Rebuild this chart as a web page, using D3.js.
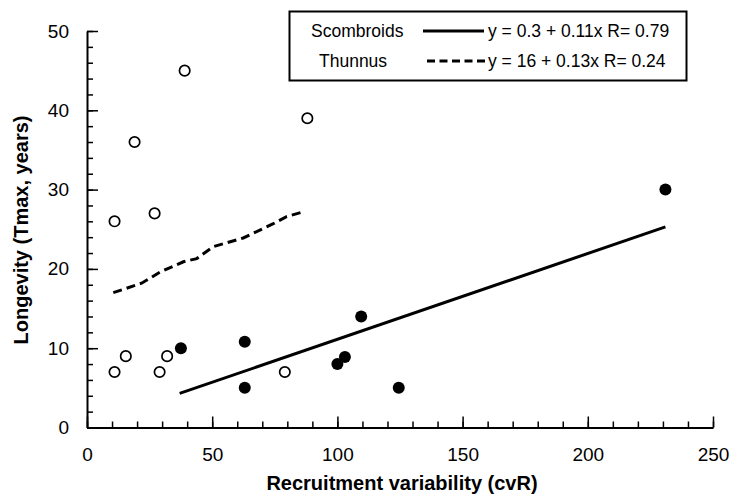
<!DOCTYPE html>
<html>
<head>
<meta charset="utf-8">
<script src="https://cdn.jsdelivr.net/npm/d3@7"></script>
<style>
  body { margin: 0; background: #fff; }
  svg text { font-family: "Liberation Sans", Arial, sans-serif; fill: #000; }
</style>
</head>
<body>
<svg id="chart" width="731" height="498"></svg>
<script>
// Scombroids (filled circles)
const scomX = [37.5, 63, 63, 100, 103, 109.5, 124.5, 231];
const scomY = [10, 10.8, 5, 8, 8.9, 14, 5, 30];
// Thunnus (open circles)
const thunX = [11, 15.5, 29, 32, 11, 19, 27, 39, 88, 79];
const thunY = [7, 9, 7, 9, 26, 36, 27, 45, 39, 7];
// fitted lines
const scomFitX = [37, 231];
const scomFitY = [4.3, 25.3];
const thunFitX = [10.5, 21.8, 29.2, 38.5, 43.8, 50.4, 62.4, 66.4, 74.4, 79.7, 85.3];
const thunFitY = [17.0, 18.2, 19.6, 20.9, 21.3, 22.8, 23.9, 24.5, 25.7, 26.6, 27.1];

const xTicks = [0, 50, 100, 150, 200, 250];
const yTicks = [0, 10, 20, 30, 40, 50];
const legendNames = ['Scombroids', 'Thunnus'];
const legendEq = ['y = 0.3 + 0.11x R= 0.79', 'y = 16 + 0.13x R= 0.24'];

const svg = d3.select('#chart');

const x = d3.scaleLinear().domain([0, 250]).range([87, 713]);
const y = d3.scaleLinear().domain([0, 50]).range([427.5, 31]);

// minor ticks first
svg.append('g')
    .attr('transform', 'translate(0,' + y(0) + ')')
    .call(d3.axisBottom(x).tickValues(d3.range(0, 251, 10)).tickSizeInner(-6).tickSizeOuter(0).tickFormat(''))
    .call(g => g.select('.domain').remove())
    .selectAll('line').attr('stroke', '#000').attr('stroke-width', 1.5);

svg.append('g')
    .attr('transform', 'translate(' + x(0) + ',0)')
    .call(d3.axisLeft(y).tickValues(d3.range(0, 51, 2)).tickSizeInner(-6).tickSizeOuter(0).tickFormat(''))
    .call(g => g.select('.domain').remove())
    .selectAll('line').attr('stroke', '#000').attr('stroke-width', 1.5);

// major ticks + labels
const xAxis = svg.append('g')
    .attr('transform', 'translate(0,' + y(0) + ')')
    .call(d3.axisBottom(x).tickValues(xTicks).tickSizeInner(-11).tickSizeOuter(0).tickPadding(20));
const yAxis = svg.append('g')
    .attr('transform', 'translate(' + x(0) + ',0)')
    .call(d3.axisLeft(y).tickValues(yTicks).tickSizeInner(-11).tickSizeOuter(0).tickPadding(18));

[xAxis, yAxis].forEach(a => {
    a.select('.domain').attr('stroke', '#000').attr('stroke-width', 2);
    a.selectAll('line').attr('stroke', '#000').attr('stroke-width', 1.5);
    a.selectAll('text').attr('font-size', 19).attr('font-family', '"Liberation Sans", Arial, sans-serif').attr('fill', '#000');
});

// axis titles
svg.append('text')
    .attr('x', 402)
    .attr('y', 490)
    .attr('text-anchor', 'middle')
    .attr('font-size', 20)
    .attr('font-weight', 'bold')
    .text('Recruitment variability (cvR)');

svg.append('text')
    .attr('transform', 'translate(28,230) rotate(-90)')
    .attr('text-anchor', 'middle')
    .attr('font-size', 20)
    .attr('font-weight', 'bold')
    .text('Longevity (Tmax, years)');

// fitted lines
const line = d3.line()
    .x(d => x(d[0]))
    .y(d => y(d[1]));

svg.append('path')
    .attr('d', line(d3.zip(scomFitX, scomFitY)))
    .attr('fill', 'none')
    .attr('stroke', '#000')
    .attr('stroke-width', 3);

svg.append('path')
    .attr('d', line(d3.zip(thunFitX, thunFitY)))
    .attr('fill', 'none')
    .attr('stroke', '#000')
    .attr('stroke-width', 3)
    .style('stroke-dasharray', '9,5');

// points
svg.selectAll('.thun')
    .data(d3.zip(thunX, thunY))
    .enter()
    .append('circle')
    .attr('class', 'thun')
    .attr('cx', d => x(d[0]))
    .attr('cy', d => y(d[1]))
    .attr('r', 5.2)
    .attr('fill', '#fff')
    .attr('stroke', '#000')
    .attr('stroke-width', 1.7);

svg.selectAll('.scom')
    .data(d3.zip(scomX, scomY))
    .enter()
    .append('circle')
    .attr('class', 'scom')
    .attr('cx', d => x(d[0]))
    .attr('cy', d => y(d[1]))
    .attr('r', 6)
    .attr('fill', '#000');

// legend
const legend = svg.append('g');
legend.append('rect')
    .attr('x', 289.5)
    .attr('y', 11.5)
    .attr('width', 397)
    .attr('height', 69)
    .attr('fill', '#fff')
    .attr('stroke', '#000')
    .attr('stroke-width', 2);

const nameX = [311, 319];
legendNames.forEach((name, i) => {
    const cy = 31 + i * 30;
    legend.append('text')
        .attr('x', nameX[i])
        .attr('y', cy + 6)
        .attr('font-size', 17.5)
        .text(name);
    legend.append('line')
        .attr('x1', i === 0 ? 423 : 427)
        .attr('x2', i === 0 ? 484 : 488)
        .attr('y1', cy)
        .attr('y2', cy)
        .attr('stroke', '#000')
        .attr('stroke-width', 3)
        .style('stroke-dasharray', i === 0 ? null : '8,4.5');
    legend.append('text')
        .attr('x', 488)
        .attr('y', cy + 6)
        .attr('font-size', 17.5)
        .text(legendEq[i]);
});
</script>
</body>
</html>
